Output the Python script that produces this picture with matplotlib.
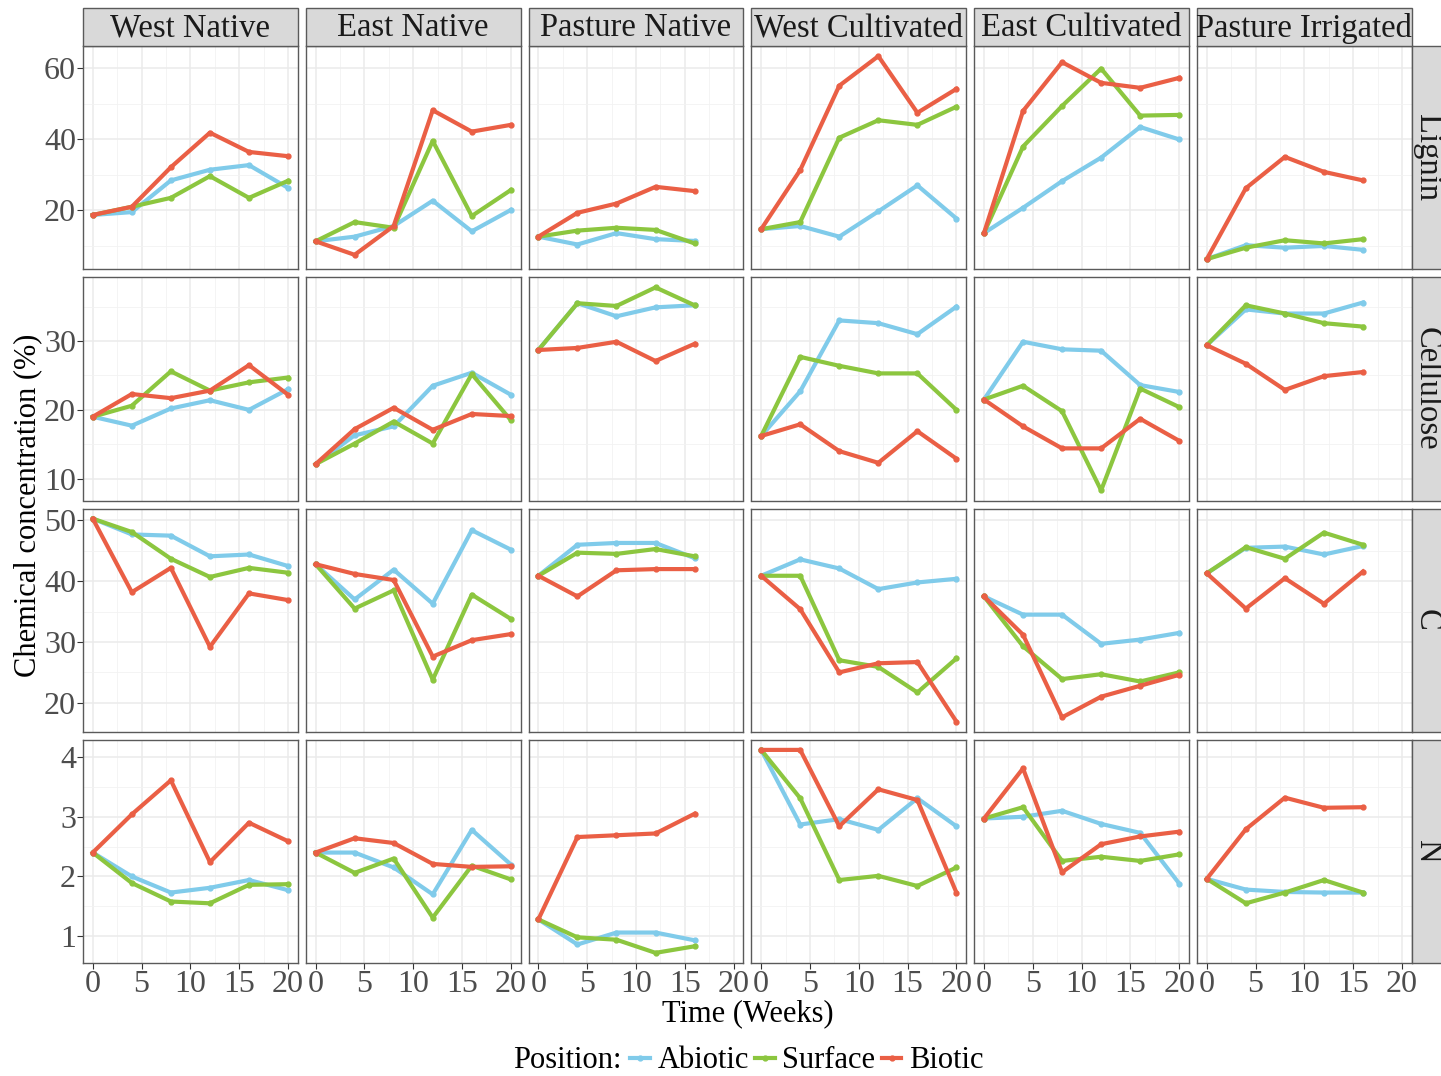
import numpy as np
import matplotlib.pyplot as plt
from matplotlib.lines import Line2D
from matplotlib.patches import Rectangle

plt.rcParams['font.family'] = ['Liberation Serif', 'DejaVu Serif']

weeks = [0, 4, 8, 12, 16, 20]
sites = ["West Native", "East Native", "Pasture Native",
         "West Cultivated", "East Cultivated", "Pasture Irrigated"]
variables = ["Lignin", "Cellulose", "C", "N"]
positions = ["Abiotic", "Surface", "Biotic"]
colores = {"Abiotic": "#80cbea", "Surface": "#8cc63f", "Biotic": "#ea5f45"}

# valores por sitio (mismo orden que sites); los pastos solo llegan a la semana 16
lignin_abiotic = [[18.7, 19.5, 28.4, 31.4, 32.7, 26.3],
                  [11.3, 12.6, 15.6, 22.7, 14.1, 20.1],
                  [12.6, 10.4, 13.6, 11.9, 11.4],
                  [14.7, 15.6, 12.6, 19.7, 27.0, 17.7],
                  [13.6, 20.7, 28.2, 34.8, 43.4, 39.9],
                  [6.3, 10.2, 9.5, 10.0, 8.9]]
lignin_surface = [[18.7, 21.0, 23.5, 29.6, 23.5, 28.3],
                  [11.3, 16.7, 15.1, 39.5, 18.4, 25.7],
                  [12.6, 14.3, 15.1, 14.5, 10.7],
                  [14.7, 16.7, 40.4, 45.3, 44.0, 49.1],
                  [13.6, 37.9, 49.3, 59.8, 46.6, 46.8],
                  [6.3, 9.5, 11.6, 10.7, 11.9]]
lignin_biotic = [[18.7, 21.0, 32.1, 41.8, 36.4, 35.2],
                 [11.3, 7.5, 15.6, 48.1, 42.1, 44.0],
                 [12.6, 19.3, 21.9, 26.6, 25.4],
                 [14.7, 31.3, 55.0, 63.3, 47.4, 54.1],
                 [13.6, 47.9, 61.6, 55.8, 54.4, 57.2],
                 [6.3, 26.2, 35.0, 30.8, 28.4]]

cellulose_abiotic = [[19.0, 17.7, 20.2, 21.4, 20.0, 23.0],
                     [12.1, 16.3, 17.6, 23.5, 25.4, 22.2],
                     [28.7, 35.5, 33.6, 34.9, 35.2],
                     [16.2, 22.7, 33.0, 32.6, 31.0, 35.0],
                     [21.5, 29.9, 28.8, 28.6, 23.6, 22.6],
                     [29.4, 34.6, 34.0, 34.0, 35.6]]
cellulose_surface = [[19.0, 20.6, 25.6, 22.8, 24.0, 24.7],
                     [12.1, 15.1, 18.3, 15.1, 25.2, 18.5],
                     [28.7, 35.5, 35.1, 37.8, 35.2],
                     [16.2, 27.7, 26.4, 25.3, 25.3, 20.0],
                     [21.5, 23.5, 19.8, 8.3, 23.1, 20.4],
                     [29.4, 35.2, 34.0, 32.6, 32.1]]
cellulose_biotic = [[19.0, 22.3, 21.7, 22.8, 26.5, 22.2],
                    [12.1, 17.2, 20.3, 17.1, 19.4, 19.1],
                    [28.7, 29.0, 29.9, 27.1, 29.6],
                    [16.2, 17.9, 14.0, 12.3, 16.9, 12.9],
                    [21.5, 17.6, 14.4, 14.4, 18.7, 15.5],
                    [29.4, 26.7, 22.9, 24.9, 25.5]]

c_abiotic = [[50.3, 47.7, 47.5, 44.1, 44.4, 42.5],
             [42.8, 37.0, 41.9, 36.3, 48.4, 45.2],
             [40.9, 46.0, 46.3, 46.3, 43.8],
             [40.9, 43.6, 42.1, 38.7, 39.8, 40.4],
             [37.5, 34.5, 34.5, 29.7, 30.4, 31.5],
             [41.3, 45.5, 45.7, 44.4, 45.8]]
c_surface = [[50.3, 48.1, 43.7, 40.7, 42.2, 41.4],
             [42.8, 35.5, 38.5, 23.8, 37.8, 33.8],
             [40.9, 44.7, 44.5, 45.3, 44.1],
             [40.9, 40.9, 27.0, 25.9, 21.7, 27.3],
             [37.5, 29.3, 23.9, 24.7, 23.5, 25.0],
             [41.3, 45.6, 43.7, 48.0, 46.0]]
c_biotic = [[50.3, 38.2, 42.2, 29.2, 38.0, 36.9],
            [42.8, 41.2, 40.2, 27.6, 30.3, 31.3],
            [40.9, 37.5, 41.8, 42.0, 42.0],
            [40.9, 35.4, 25.0, 26.5, 26.7, 16.9],
            [37.5, 31.2, 17.6, 21.0, 22.8, 24.6],
            [41.3, 35.5, 40.5, 36.3, 41.6]]

n_abiotic = [[2.40, 2.00, 1.73, 1.81, 1.94, 1.77],
             [2.40, 2.40, 2.15, 1.70, 2.78, 2.20],
             [1.28, 0.86, 1.06, 1.06, 0.93],
             [4.12, 2.87, 2.96, 2.78, 3.31, 2.84],
             [2.97, 3.00, 3.10, 2.88, 2.73, 1.88],
             [1.96, 1.78, 1.74, 1.73, 1.73]]
n_surface = [[2.40, 1.89, 1.58, 1.55, 1.86, 1.87],
             [2.40, 2.06, 2.30, 1.31, 2.18, 1.95],
             [1.28, 0.98, 0.94, 0.72, 0.83],
             [4.12, 3.31, 1.94, 2.01, 1.84, 2.15],
             [2.97, 3.16, 2.26, 2.33, 2.26, 2.37],
             [1.96, 1.55, 1.73, 1.94, 1.73]]
n_biotic = [[2.40, 3.04, 3.61, 2.24, 2.90, 2.59],
            [2.40, 2.64, 2.56, 2.21, 2.16, 2.17],
            [1.28, 2.66, 2.69, 2.72, 3.05],
            [4.12, 4.12, 2.84, 3.46, 3.28, 1.73],
            [2.97, 3.81, 2.07, 2.54, 2.67, 2.75],
            [1.96, 2.79, 3.32, 3.15, 3.16]]

datos = {
    "Lignin": [lignin_abiotic, lignin_surface, lignin_biotic],
    "Cellulose": [cellulose_abiotic, cellulose_surface, cellulose_biotic],
    "C": [c_abiotic, c_surface, c_biotic],
    "N": [n_abiotic, n_surface, n_biotic],
}
yticks = {"Lignin": [20, 40, 60], "Cellulose": [10, 20, 30],
          "C": [20, 30, 40, 50], "N": [1, 2, 3, 4]}

W, H = 1441, 1076
fig = plt.figure(figsize=(W / 100, H / 100), dpi=100)

x0, panel_w, gap = 83, 214.8, 8
y0, panel_h = 46, 223.25
strip_h = 38
gris_borde = "#5a5a5a"
gris_texto = "#4d4d4d"
fs_tick = 23
fs_strip = 23.5

for i, var in enumerate(variables):
    vals_all = [v for serie in datos[var] for sitio in serie for v in sitio]
    lo, hi = min(vals_all), max(vals_all)
    pad = 0.05 * (hi - lo)
    top_px = y0 + i * (panel_h + gap)
    for j, sitio in enumerate(sites):
        left_px = x0 + j * (panel_w + gap)
        ax = fig.add_axes([left_px / W, 1 - (top_px + panel_h) / H,
                           panel_w / W, panel_h / H])
        for k, pos in enumerate(positions):
            y = datos[var][k][j]
            ax.plot(weeks[:len(y)], y, '-o', color=colores[pos], lw=3.0,
                    ms=3.5, zorder=3 + k)
        ax.set_xlim(-1, 21)
        ax.set_xticks([0, 5, 10, 15, 20])
        ax.set_xticks([2.5, 7.5, 12.5, 17.5], minor=True)
        yt = yticks[var]
        ax.set_yticks(yt)
        step = yt[1] - yt[0]
        ax.set_yticks([yt[0] - step / 2] + [t + step / 2 for t in yt], minor=True)
        ax.set_ylim(lo - pad, hi + pad)
        ax.grid(which='major', color='#ebebeb', lw=1.1)
        ax.grid(which='minor', color='#f2f2f2', lw=0.6)
        ax.set_axisbelow(True)
        for s in ax.spines.values():
            s.set_color(gris_borde)
            s.set_linewidth(1.0)
        ax.tick_params(which='minor', length=0)
        ax.tick_params(which='major', color='#333333', length=4, width=0.8,
                       labelsize=fs_tick, labelcolor=gris_texto, pad=1.0)
        if j > 0:
            ax.tick_params(axis='y', length=0, labelleft=False)
        if i < len(variables) - 1:
            ax.tick_params(axis='x', length=0, labelbottom=False)

        if i == 0:
            fig.patches.append(Rectangle((left_px / W, 1 - top_px / H),
                                         panel_w / W, strip_h / H,
                                         transform=fig.transFigure,
                                         facecolor='#d9d9d9', edgecolor=gris_borde,
                                         lw=1.0))
            fig.text((left_px + panel_w / 2) / W, 1 - (top_px - strip_h / 2 + 1) / H,
                     sitio, ha='center', va='center', fontsize=fs_strip,
                     color='#1a1a1a')
    # tira derecha (en el original queda cortada por el borde)
    sx = x0 + 6 * panel_w + 5 * gap
    fig.patches.append(Rectangle((sx / W, 1 - (top_px + panel_h) / H),
                                 60 / W, panel_h / H,
                                 transform=fig.transFigure, facecolor='#d9d9d9',
                                 edgecolor=gris_borde, lw=1.0))
    fig.text((sx + 15) / W, 1 - (top_px + panel_h / 2) / H, var,
             rotation=-90, ha='center', va='center', fontsize=fs_strip,
             color='#1a1a1a')

fig.text(28 / W, 1 - 505 / H, "Chemical concentration (%)", rotation=90,
         ha='center', va='center', fontsize=22)
fig.text(748 / W, 1 - 1014 / H, "Time (Weeks)", ha='center', va='center',
         fontsize=22)

fig.text(513 / W, 1 - 1061 / H, "Position:", ha='left', va='center', fontsize=22)
handles = [Line2D([0], [0], color=colores[p], lw=3.0, marker='o', ms=3.5)
           for p in positions]
fig.legend(handles, positions, loc='center left',
           bbox_to_anchor=(630 / W, 1 - 1061 / H), ncol=3, frameon=False,
           fontsize=22, handlelength=0.65, handletextpad=0.25, columnspacing=0.2,
           borderaxespad=0, borderpad=0)

fig.savefig("out.png", dpi=100)
